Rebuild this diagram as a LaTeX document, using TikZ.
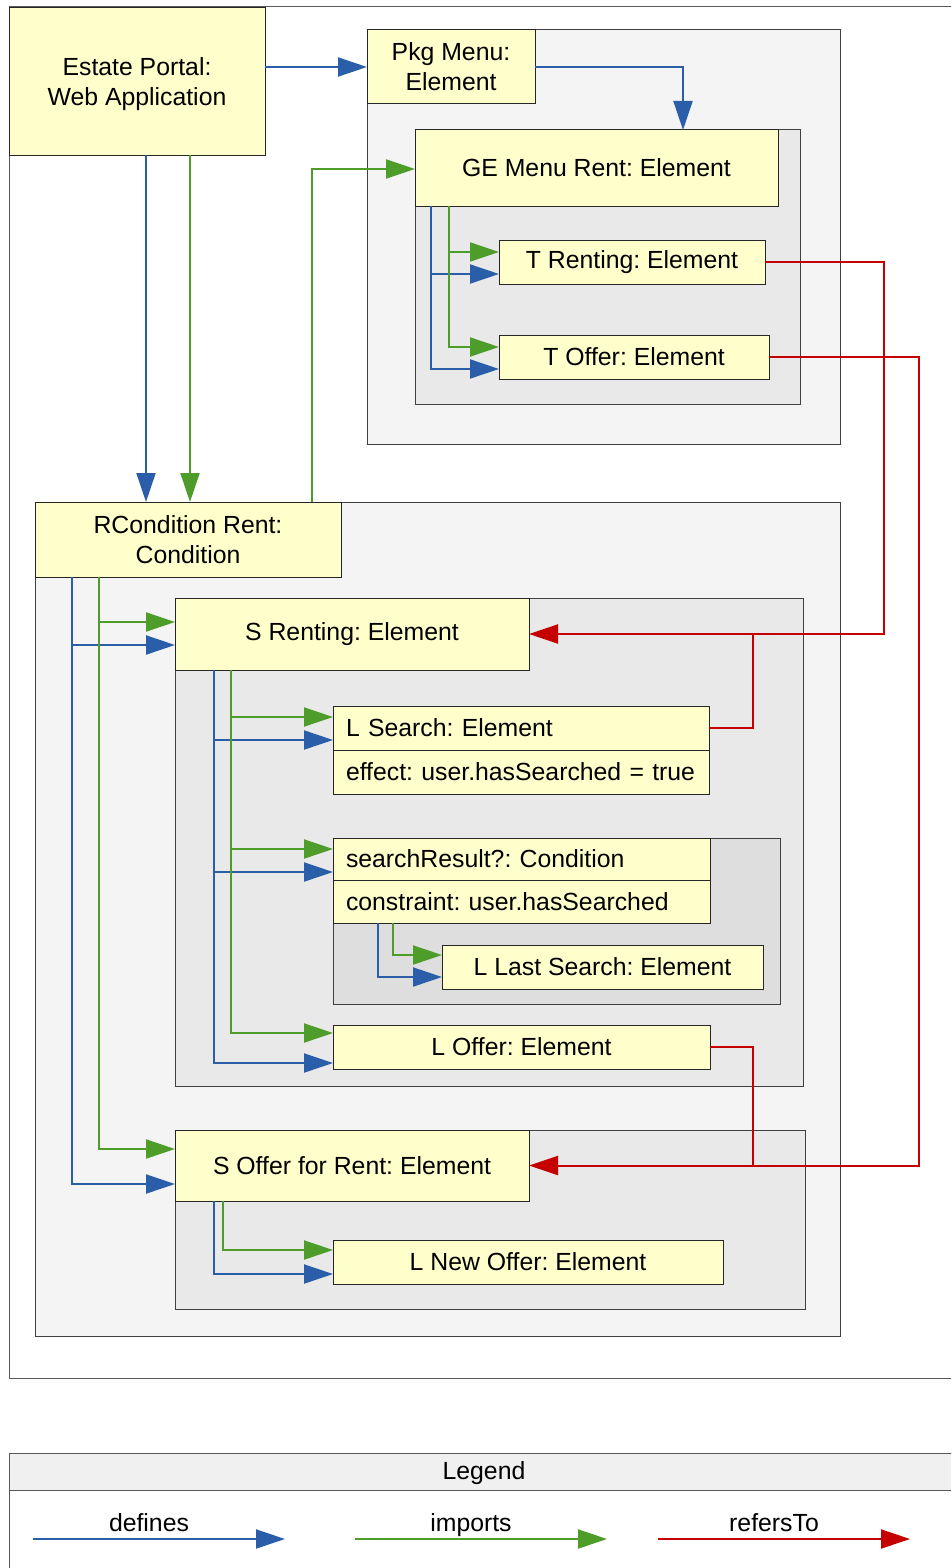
\documentclass[tikz,border=0pt]{standalone}
\usepackage{fontspec}
\setmainfont{Liberation Sans}
\frenchspacing
\usetikzlibrary{arrows.meta}
\definecolor{defblue}{HTML}{2A5EA8}
\definecolor{impgreen}{HTML}{4E9C2A}
\definecolor{refred}{HTML}{C40000}
\definecolor{elemfill}{HTML}{FFFFCC}
\definecolor{packfill}{HTML}{F4F4F4}
\definecolor{groupfill}{HTML}{E9E9E9}
\definecolor{condfill}{HTML}{DEDEDE}
\definecolor{headfill}{HTML}{F0F0F0}
\tikzset{
  txt/.style={font=\fontsize{24.8}{30}\selectfont\frenchspacing},
  elem/.style={txt, draw=black!85, fill=elemfill, line width=1pt, inner sep=0pt,
    outer sep=0pt, anchor=north west, align=center},
  leftelem/.style={elem, align=left, text width=#1, inner xsep=13pt},
  pack/.style={draw=black!75, fill=packfill, line width=1pt, inner sep=0pt,
    outer sep=0pt, anchor=north west},
  group/.style={pack, fill=groupfill},
  cond/.style={pack, fill=condfill},
  tip/.style={-{Triangle[length=29pt,width=19pt]}},
  def/.style={draw=defblue, line width=2pt, tip},
  imp/.style={draw=impgreen, line width=2pt, tip},
  ref/.style={draw=refred, line width=2pt, tip},
  refjoin/.style={draw=refred, line width=2pt},
}
\begin{document}
\begin{tikzpicture}[x=1pt,y=-1pt]
\useasboundingbox (0,0) rectangle (951,1568);
\clip (0,0) rectangle (951,1568);

% outer frame
\draw[draw=black!65, fill=white, line width=1pt] (9,7) rectangle (980,1378);

% containers
\node[pack,  minimum width=473pt, minimum height=414pt] (pkg)   at (367,30)  {};
\node[group, minimum width=385pt, minimum height=274pt] (ge)    at (415,130) {};
\node[pack,  minimum width=805pt, minimum height=834pt] (rcond) at (35,502)  {};
\node[group, minimum width=628pt, minimum height=488pt] (srent) at (175,598) {};
\node[cond,  minimum width=447pt, minimum height=166pt] (sres)  at (333,838) {};
\node[group, minimum width=630pt, minimum height=179pt] (soffer) at (175,1130) {};

% elements
\node[elem, minimum width=256pt, minimum height=147pt] (estate) at (9,8)
  {\raisebox{-3pt}[\height][\depth]{\begin{tabular}{@{}c@{}}Estate Portal:\\Web Application\end{tabular}}};
\node[elem, minimum width=168pt, minimum height=74pt] (pkghead) at (367,30)
  {Pkg Menu:\\Element};
\node[elem, minimum width=363pt, minimum height=76pt] (gehead) at (415,130)
  {GE Menu Rent: Element};
\node[elem, minimum width=266pt, minimum height=44pt] (trent) at (499,240)
  {T Renting: Element};
\node[elem, minimum width=270pt, minimum height=44pt] (toffer) at (499,335)
  {T Offer: Element};
\node[elem, minimum width=306pt, minimum height=75pt] (rcondhead) at (35,502)
  {RCondition Rent:\\Condition};
\node[elem, minimum width=354pt, minimum height=72pt] (srenthead) at (175,598)
  {S Renting: Element};
\node[leftelem=350pt, minimum height=44pt] (lsearch) at (333,706)
  {L Search: Element};
\node[leftelem=350pt, minimum height=44pt] (lsearcheff) at (333,750)
  {effect: user.hasSearched = true};
\node[leftelem=351pt, minimum height=42pt] (sreshead) at (333,838)
  {searchResult?: Condition};
\node[leftelem=351pt, minimum height=43pt] (sresconst) at (333,880)
  {constraint: user.hasSearched};
\node[elem, minimum width=321pt, minimum height=44pt] (llast) at (442,945)
  {L Last Search: Element};
\node[elem, minimum width=377pt, minimum height=44pt] (loffer) at (333,1025)
  {L Offer: Element};
\node[elem, minimum width=354pt, minimum height=71pt] (sofferhead) at (175,1130)
  {S Offer for Rent: Element};
\node[elem, minimum width=390pt, minimum height=44pt] (lnew) at (333,1240)
  {L New Offer: Element};

% defines / imports from the web application
\draw[def] (estate.east |- pkghead.west) -- (pkghead.west);
\draw[def] (pkghead.east) -| ([xshift=268pt]gehead.north west);
\draw[def] ([xshift=137pt]estate.south west) -- ([xshift=137pt]estate.south west |- rcondhead.north);
\draw[imp] ([xshift=181pt]estate.south west) -- ([xshift=181pt]estate.south west |- rcondhead.north);
\draw[imp] ([xshift=277pt]rcondhead.north west) |- ([yshift=-39pt]gehead.north west);

% inside GE Menu Rent
\draw[def] ([xshift=16pt]gehead.south west) |- ([yshift=-34pt]trent.north west);
\draw[def] ([xshift=16pt]gehead.south west) |- ([yshift=-34pt]toffer.north west);
\draw[imp] ([xshift=34pt]gehead.south west) |- ([yshift=-12pt]trent.north west);
\draw[imp] ([xshift=34pt]gehead.south west) |- ([yshift=-12pt]toffer.north west);

% inside RCondition Rent
\draw[def] ([xshift=37pt]rcondhead.south west) |- ([yshift=-47pt]srenthead.north west);
\draw[def] ([xshift=37pt]rcondhead.south west) |- ([yshift=-54pt]sofferhead.north west);
\draw[imp] ([xshift=64pt]rcondhead.south west) |- ([yshift=-24pt]srenthead.north west);
\draw[imp] ([xshift=64pt]rcondhead.south west) |- ([yshift=-19pt]sofferhead.north west);

% inside S Renting
\draw[def] ([xshift=39pt]srenthead.south west) |- ([yshift=-34pt]lsearch.north west);
\draw[def] ([xshift=39pt]srenthead.south west) |- ([yshift=-34pt]sreshead.north west);
\draw[def] ([xshift=39pt]srenthead.south west) |- ([yshift=-38pt]loffer.north west);
\draw[imp] ([xshift=56pt]srenthead.south west) |- ([yshift=-11pt]lsearch.north west);
\draw[imp] ([xshift=56pt]srenthead.south west) |- ([yshift=-11pt]sreshead.north west);
\draw[imp] ([xshift=56pt]srenthead.south west) |- ([yshift=-8pt]loffer.north west);

% inside searchResult?
\draw[def] ([xshift=45pt]sresconst.south west) |- ([yshift=-32pt]llast.north west);
\draw[imp] ([xshift=60pt]sresconst.south west) |- ([yshift=-10pt]llast.north west);

% inside S Offer for Rent
\draw[def] ([xshift=39pt]sofferhead.south west) |- ([yshift=-34pt]lnew.north west);
\draw[imp] ([xshift=48pt]sofferhead.south west) |- ([yshift=-10pt]lnew.north west);

% refersTo
\draw[refjoin] (lsearch.east) -| ([xshift=224pt]srenthead.east);
\draw[refjoin] (loffer.east) -| ([xshift=224pt]sofferhead.east);
\draw[ref] (trent.east) -| ([xshift=355pt]srenthead.east) -- (srenthead.east);
\draw[ref] (toffer.east) -| ([xshift=390pt]sofferhead.east) -- (sofferhead.east);

% legend
\draw[draw=black!65, fill=white, line width=1pt] (9,1453) rectangle (980,1600);
\draw[draw=black!65, fill=headfill, line width=1pt] (9,1453) rectangle (980,1490);
\node[txt, anchor=base] (legendtitle) at (484,1479) {Legend};
\coordinate (d0) at (33,1539);  \coordinate (d1) at (285,1539);
\coordinate (i0) at (355,1539); \coordinate (i1) at (607,1539);
\coordinate (r0) at (658,1539); \coordinate (r1) at (910,1539);
\draw[def] (d0) -- (d1);
\draw[imp] (i0) -- (i1);
\draw[ref] (r0) -- (r1);
\node[txt, anchor=base] (ldef) at (149,1531) {defines};
\node[txt, anchor=base] (limp) at (471,1531) {imports};
\node[txt, anchor=base] (lref) at (774,1531) {refersTo};
\end{tikzpicture}
\end{document}
